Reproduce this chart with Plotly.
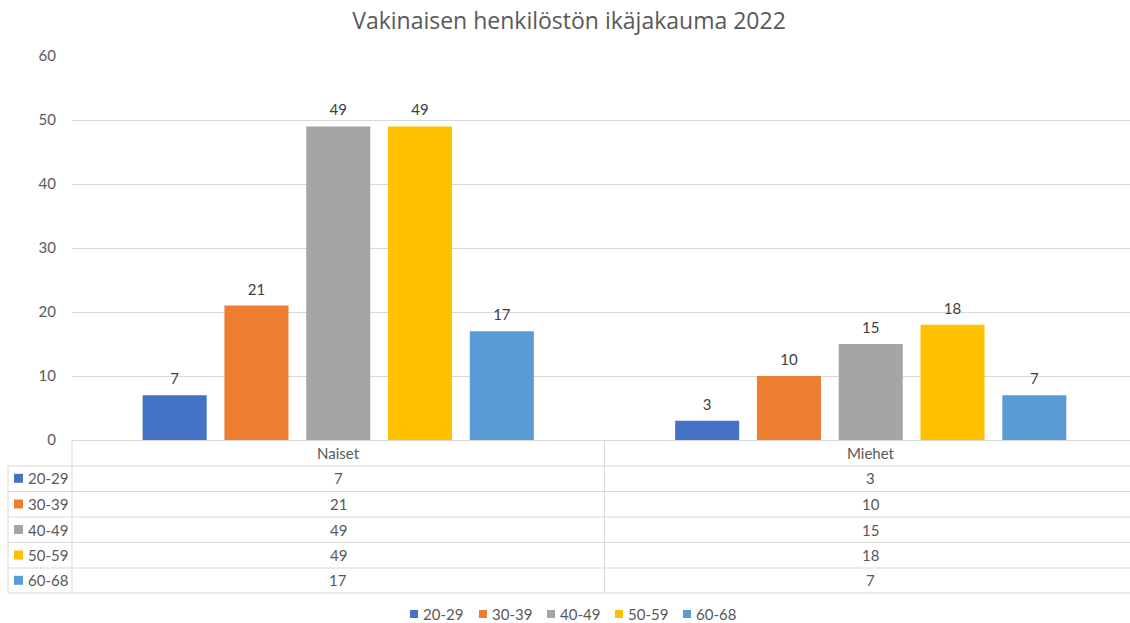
import plotly.graph_objects as go

# ---------------- data ----------------
categories = ["Naiset", "Miehet"]
age_groups = ["20-29", "30-39", "40-49", "50-59", "60-68"]
naiset = [7, 21, 49, 49, 17]
miehet = [3, 10, 15, 18, 7]
colors = ["#4472C4", "#ED7D31", "#A5A5A5", "#FFC000", "#5B9BD5"]
title_text = "Vakinaisen henkilöstön ikäjakauma 2022"
y_ticks = [0, 10, 20, 30, 40, 50, 60]

# ---------------- layout helpers ----------------
W, H = 1130, 623
L, R, T, B = 72, 0, 56, 183
PW = W - L - R
PH = H - T - B
BASE = H - B  # pixel y of the x axis


def px(xp):
    return (xp - L) / PW


def py(yp):
    return (BASE - yp) / PH


FONT = "Lato, 'Open Sans', sans-serif"
TITLE_FONT = "'Open Sans', Lato, sans-serif"
TXT = "#595959"
LBL = "#404040"
GRID = "#D9D9D9"

values_by_group = [[naiset[i], miehet[i]] for i in range(len(age_groups))]

fig = go.Figure()
for i, g in enumerate(age_groups):
    fig.add_trace(go.Bar(
        name=g, x=categories, y=values_by_group[i],
        marker=dict(color=colors[i], line=dict(width=0)),
        offsetgroup=str(i), showlegend=False,
    ))
for i, g in enumerate(age_groups):
    vals = values_by_group[i]
    fig.add_trace(go.Scatter(
        name=g, x=categories, y=vals, mode="markers+text",
        text=[str(v) for v in vals], textposition="top center",
        textfont=dict(family=FONT, size=15, color=LBL),
        marker=dict(size=10, opacity=0, color=colors[i]),
        offsetgroup=str(i), showlegend=False, hoverinfo="skip",
        cliponaxis=False,
    ))

annotations = []
shapes = []

# table header (category names)
for c in categories:
    annotations.append(dict(x=c, xref="x", y=py(452.7), yref="paper", text=c,
                            showarrow=False, xanchor="center", yanchor="middle",
                            font=dict(family=FONT, size=15, color=TXT)))

row_centers = [478.3, 504.0, 529.5, 555.0, 580.3]
row_lines = [466, 491.5, 517, 542.5, 568, 593]

for i, g in enumerate(age_groups):
    yc = row_centers[i]
    # key square
    shapes.append(dict(type="rect", xref="paper", yref="paper",
                       x0=px(14), x1=px(23), y0=py(yc + 4.5), y1=py(yc - 4.5),
                       fillcolor=colors[i], line=dict(width=0)))
    annotations.append(dict(x=px(26), xref="paper", y=py(yc), yref="paper", text=g,
                            showarrow=False, xanchor="left", yanchor="middle",
                            font=dict(family=FONT, size=15, color=TXT)))
    for j, c in enumerate(categories):
        annotations.append(dict(x=c, xref="x", y=py(yc), yref="paper",
                                text=str(values_by_group[i][j]),
                                showarrow=False, xanchor="center", yanchor="middle",
                                font=dict(family=FONT, size=15, color=TXT)))

# table lines
for yl in row_lines:
    shapes.append(dict(type="line", xref="paper", yref="paper",
                       x0=px(8), x1=1, y0=py(yl), y1=py(yl),
                       line=dict(color=GRID, width=1)))
shapes.append(dict(type="line", xref="paper", yref="paper", x0=0, x1=0,
                   y0=py(BASE), y1=py(593), line=dict(color=GRID, width=1)))
shapes.append(dict(type="line", xref="x", yref="paper", x0=0.5, x1=0.5,
                   y0=py(BASE), y1=py(593), line=dict(color=GRID, width=1)))
shapes.append(dict(type="line", xref="paper", yref="paper", x0=px(8), x1=px(8),
                   y0=py(466), y1=py(593), line=dict(color=GRID, width=1)))

# legend (manual)
legend_x = [410, 479, 547, 615, 683]
for i, g in enumerate(age_groups):
    x0 = legend_x[i]
    shapes.append(dict(type="rect", xref="paper", yref="paper",
                       x0=px(x0), x1=px(x0 + 8), y0=py(618), y1=py(610),
                       fillcolor=colors[i], line=dict(width=0)))
    annotations.append(dict(x=px(x0 + 11), xref="paper", y=py(614), yref="paper",
                            text=g, showarrow=False, xanchor="left", yanchor="middle",
                            font=dict(family=FONT, size=15, color=TXT)))

fig.update_layout(
    width=W, height=H,
    margin=dict(l=L, r=R, t=T, b=B, pad=0),
    paper_bgcolor="white", plot_bgcolor="white",
    title=dict(text=title_text, x=569 / W, xanchor="center", xref="container",
               y=1 - 21 / H, yanchor="middle", yref="container",
               font=dict(family=TITLE_FONT, size=23, color=TXT)),
    barmode="group", bargap=0.232, bargroupgap=0.217,
    scattermode="group", scattergap=0.232,
    showlegend=False,
    xaxis=dict(type="category", categoryorder="array", categoryarray=categories,
               range=[-0.5, 1.5 - 7 / 533], showticklabels=False, showgrid=False,
               zeroline=False, showline=False, ticks=""),
    yaxis=dict(range=[0, 60], tickvals=y_ticks, showgrid=True, gridcolor=GRID,
               gridwidth=1, zeroline=True, zerolinecolor=GRID, zerolinewidth=1,
               showline=False, ticks="", ticklabelstandoff=15,
               tickfont=dict(family=FONT, size=15, color=TXT)),
    annotations=annotations,
    shapes=shapes,
)

fig.write_html(
    "out.html",
    config={"displayModeBar": False},
    post_script="document.body.style.margin='0';document.body.style.overflow='hidden';",
)
